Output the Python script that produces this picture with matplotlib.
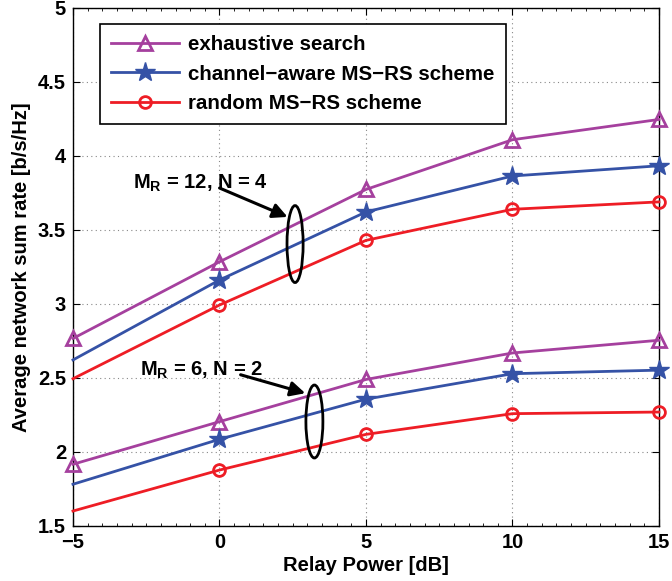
import numpy as np
import matplotlib
matplotlib.use("Agg")
import matplotlib.pyplot as plt
from matplotlib.patches import Ellipse

plt.rcParams['font.family'] = ['Liberation Sans', 'DejaVu Sans']
plt.rcParams['font.weight'] = 'bold'
plt.rcParams['mathtext.default'] = 'regular'

power_db = [-5, 0, 5, 10, 15]

# M_R = 12, N = 4
exh_12 = [2.765, 3.283, 3.772, 4.108, 4.245]
aware_12 = [2.62, 3.16, 3.62, 3.863, 3.932]
rand_12 = [2.493, 2.991, 3.428, 3.638, 3.688]

# M_R = 6, N = 2
exh_6 = [1.915, 2.203, 2.488, 2.667, 2.753]
aware_6 = [1.78, 2.084, 2.355, 2.527, 2.551]
rand_6 = [1.599, 1.876, 2.117, 2.257, 2.268]

labels = ['exhaustive search', 'channel\u2212aware MS\u2212RS scheme', 'random MS\u2212RS scheme']

purple = '#A5409E'
blue = '#3552A6'
red = '#EE1D25'

fs = 14.5

fig = plt.figure(figsize=(6.72, 5.81), dpi=100)
ax = fig.add_axes([0.1086, 0.0952, 0.872, 0.8915])

tri = dict(marker='^', markersize=10, markerfacecolor='none', markeredgewidth=2)
star = dict(marker='*', markersize=15, markerfacecolor=blue, markeredgecolor=blue)
circ = dict(marker='o', markersize=8.5, markerfacecolor='none', markeredgewidth=2)

for e, a, r in [(exh_12, aware_12, rand_12), (exh_6, aware_6, rand_6)]:
    ax.plot(power_db, e, color=purple, lw=2, clip_on=False, zorder=4, **tri)
    ax.plot(power_db, a, color=blue, lw=2, markevery=[1, 2, 3, 4], clip_on=False, zorder=4, **star)
    ax.plot(power_db, r, color=red, lw=2, markevery=[1, 2, 3, 4], clip_on=False, zorder=4, **circ)

# legend handles
h1, = ax.plot([], [], color=purple, lw=2, **tri)
h2, = ax.plot([], [], color=blue, lw=2, **star)
h3, = ax.plot([], [], color=red, lw=2, **circ)
leg = ax.legend([h1, h2, h3], labels, loc='upper left', bbox_to_anchor=(0.046, 0.9685),
                fancybox=False, framealpha=1, edgecolor='black', fontsize=14.8,
                handlelength=3.3, borderpad=0.55, labelspacing=0.5, handletextpad=0.45,
                borderaxespad=0)
leg.get_frame().set_linewidth(1.2)
leg.set_zorder(6)

# group markers
ax.add_patch(Ellipse((2.58, 3.403), 0.55, 0.52, fill=False, lw=2, ec='black', zorder=5))
ax.add_patch(Ellipse((3.24, 2.204), 0.58, 0.493, fill=False, lw=2, ec='black', zorder=5))
ax.annotate('', xy=(2.41, 3.579), xytext=(-0.085, 3.789),
            arrowprops=dict(arrowstyle='-|>', color='black', lw=2.2, mutation_scale=22))
ax.annotate('', xy=(3.02, 2.39), xytext=(0.63, 2.525),
            arrowprops=dict(arrowstyle='-|>', color='black', lw=2.2, mutation_scale=22))
ax.text(-2.95, 3.815, r'M$_{R}$ = 12, N = 4', fontsize=fs, fontweight='bold', va='center')
ax.text(-2.71, 2.552, r'M$_{R}$ = 6, N = 2', fontsize=fs, fontweight='bold', va='center')

ax.set_xlim(-5, 15)
ax.set_ylim(1.5, 5)
ax.set_xticks([-5, 0, 5, 10, 15])
ax.set_xticklabels(['\u22125', '0', '5', '10', '15'])
ax.set_yticks([1.5, 2, 2.5, 3, 3.5, 4, 4.5, 5])
ax.set_yticklabels(['1.5', '2', '2.5', '3', '3.5', '4', '4.5', '5'])
ax.set_xticks(np.arange(-5, 15.01, 0.5), minor=True)
ax.tick_params(which='both', direction='in', labelsize=fs, top=True, right=True)
ax.tick_params(which='major', length=5, pad=5)
ax.tick_params(which='minor', length=2.5)
ax.grid(True, which='major', linestyle=(0, (1, 3)), color='#888888', lw=0.8)
for s in ax.spines.values():
    s.set_linewidth(1)

ax.set_xlabel('Relay Power [dB]', fontsize=fs, fontweight='bold', labelpad=3)
ax.set_ylabel('Average network sum rate [b/s/Hz]', fontsize=fs, fontweight='bold', labelpad=5)

fig.savefig('out.png', dpi=100)
